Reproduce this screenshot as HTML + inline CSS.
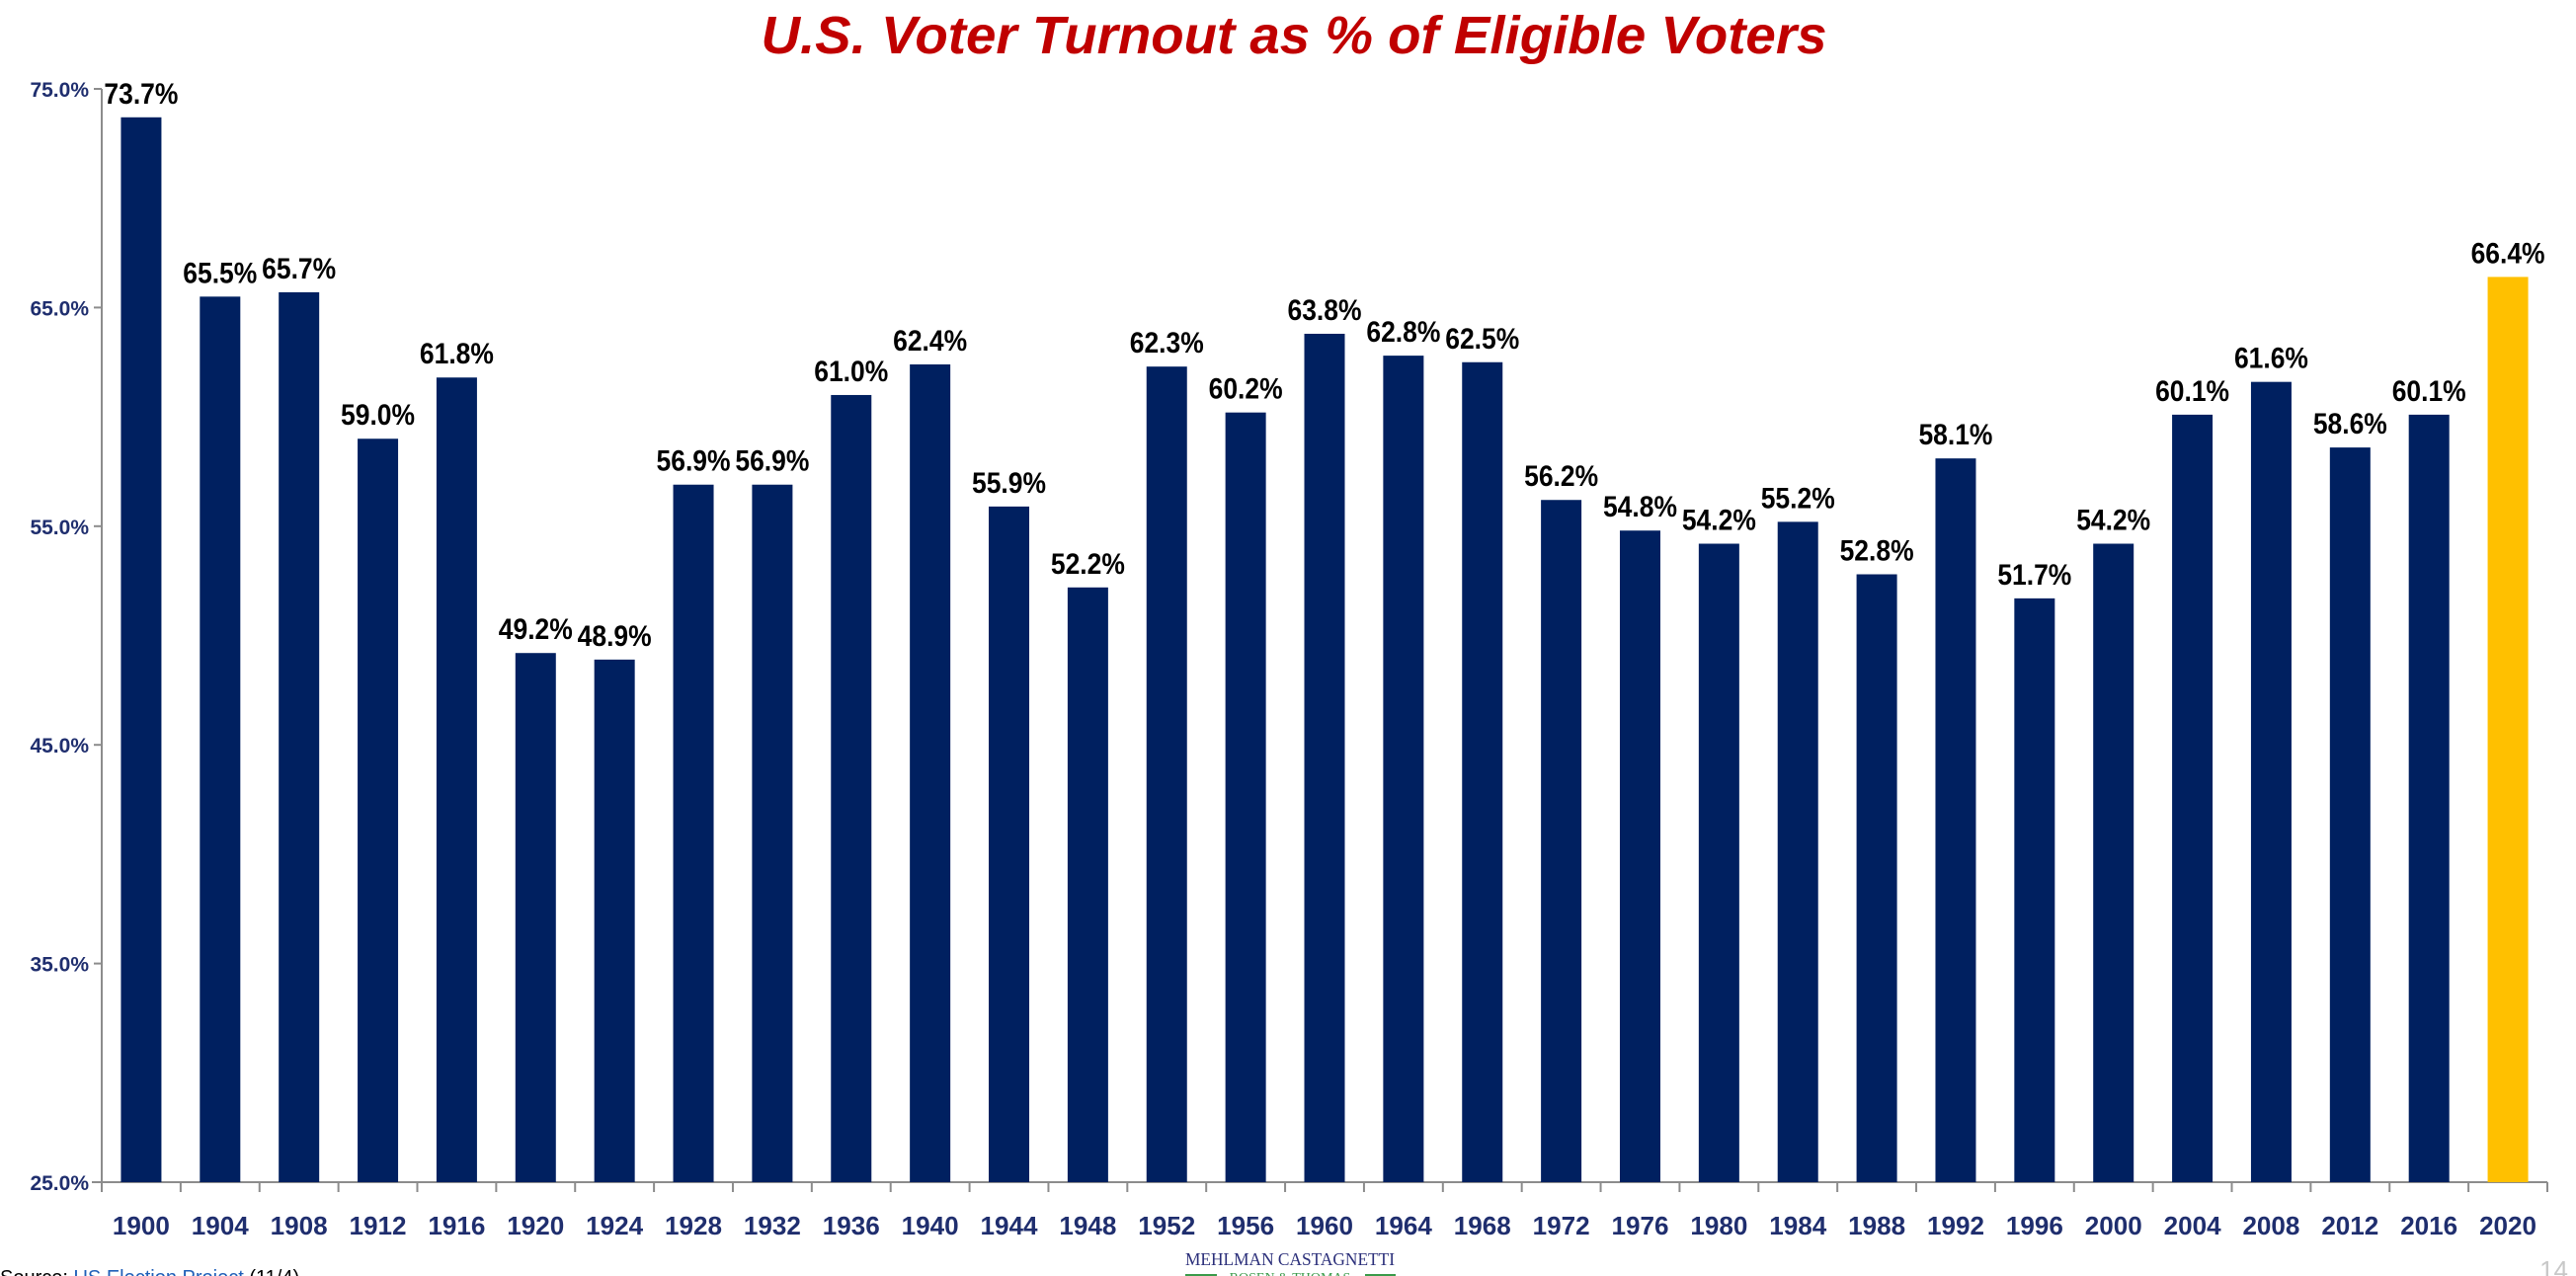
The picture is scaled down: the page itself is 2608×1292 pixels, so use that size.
<!DOCTYPE html>
<html><head><meta charset="utf-8"><style>
html,body{margin:0;padding:0;background:#fff;}
svg{display:block;}
</style></head><body>
<svg id="chart" width="2608" height="1292" viewBox="0 0 2608 1292" xmlns="http://www.w3.org/2000/svg">
<text x="1310" y="54" text-anchor="middle" font-family="Liberation Sans, sans-serif" font-weight="bold" font-style="italic" font-size="54" fill="#C00000" textLength="1079" lengthAdjust="spacingAndGlyphs">U.S. Voter Turnout as % of Eligible Voters</text>
<g id="plot"></g>
<text x="0" y="1300" font-family="Liberation Sans, sans-serif" font-size="20" fill="#000">Source: <tspan fill="#1F5FB8">US Election Project</tspan> (11/4)</text>
<text x="1306" y="1281" text-anchor="middle" font-family="Liberation Serif, serif" font-size="18" fill="#2B2F7A" textLength="212" lengthAdjust="spacingAndGlyphs">MEHLMAN CASTAGNETTI</text>
<line x1="1200" y1="1291" x2="1232" y2="1291" stroke="#3A9A4A" stroke-width="2"/>
<line x1="1382" y1="1291" x2="1413" y2="1291" stroke="#3A9A4A" stroke-width="2"/>
<text x="1306" y="1298" text-anchor="middle" font-family="Liberation Serif, serif" font-size="14" fill="#3A9A4A">ROSEN &amp; THOMAS</text>
<text x="2600" y="1295" text-anchor="end" font-family="Liberation Sans, sans-serif" font-size="26" fill="#C8C8C8">14</text>
</svg>
<script>
const years = [1900,1904,1908,1912,1916,1920,1924,1928,1932,1936,1940,1944,1948,1952,1956,1960,1964,1968,1972,1976,1980,1984,1988,1992,1996,2000,2004,2008,2012,2016,2020];
const turnout = [73.7,65.5,65.7,59.0,61.8,49.2,48.9,56.9,56.9,61.0,62.4,55.9,52.2,62.3,60.2,63.8,62.8,62.5,56.2,54.8,54.2,55.2,52.8,58.1,51.7,54.2,60.1,61.6,58.6,60.1,66.4];
const yTicks = [25,35,45,55,65,75];
const highlightYear = 2020;

const NS = 'http://www.w3.org/2000/svg';
const plot = document.getElementById('plot');
const X0 = 103, X1 = 2579, Y0 = 1197, Y1 = 90, YMIN = 25, YMAX = 75;
const bw = (X1 - X0) / years.length;
const barW = 41;
function xScale(i){ return X0 + bw * (i + 0.5); }
function yScale(v){ return Y0 - (v - YMIN) / (YMAX - YMIN) * (Y0 - Y1); }
function mk(tag, attrs){ const e = document.createElementNS(NS, tag); for (const k in attrs) e.setAttribute(k, attrs[k]); plot.appendChild(e); return e; }

let ax = mk('line', {x1:X0, y1:Y1, x2:X0, y2:Y0, stroke:'#8C8C8C', 'stroke-width':2});


let bx = mk('line', {x1:X0-10, y1:Y0, x2:X1, y2:Y0, stroke:'#8C8C8C', 'stroke-width':2});



yTicks.forEach(t => {
  const y = yScale(t);
  const tk = mk('line', {x1:X0-8, y1:y, x2:X0, y2:y, stroke:'#8C8C8C', 'stroke-width':2});
  
  
  const lb = mk('text', {x:90, y:y+8, 'text-anchor':'end', 'font-family':'Liberation Sans, sans-serif', 'font-weight':'bold', 'font-size':21, fill:'#1F2E6E'});
  lb.textContent = t.toFixed(1) + '%';
  
  
});

for (let i = 0; i <= years.length; i++) {
  const x = X0 + bw * i;
  const tk = mk('line', {x1:x, y1:Y0, x2:x, y2:Y0+10, stroke:'#8C8C8C', 'stroke-width':2});
  
  
}

years.forEach((yr, i) => {
  const v = turnout[i];
  const cx = xScale(i), top = yScale(v);
  const r = mk('rect', {x:cx-barW/2, y:top, width:barW, height:Y0-top, fill: yr === highlightYear ? '#FFC000' : '#002060'});
  
  
  const vl = mk('text', {x:cx, y:top-14, 'text-anchor':'middle', 'font-family':'Liberation Sans, sans-serif', 'font-weight':'bold', 'font-size':30, fill:'#000', textLength:75, lengthAdjust:'spacingAndGlyphs'});
  vl.textContent = v.toFixed(1) + '%';
  
  
  const xl = mk('text', {x:cx, y:1250, 'text-anchor':'middle', 'font-family':'Liberation Sans, sans-serif', 'font-weight':'bold', 'font-size':26, fill:'#1F2E6E', textLength:58, lengthAdjust:'spacingAndGlyphs'});
  xl.textContent = yr;
  
  
});
</script>
</body></html>
